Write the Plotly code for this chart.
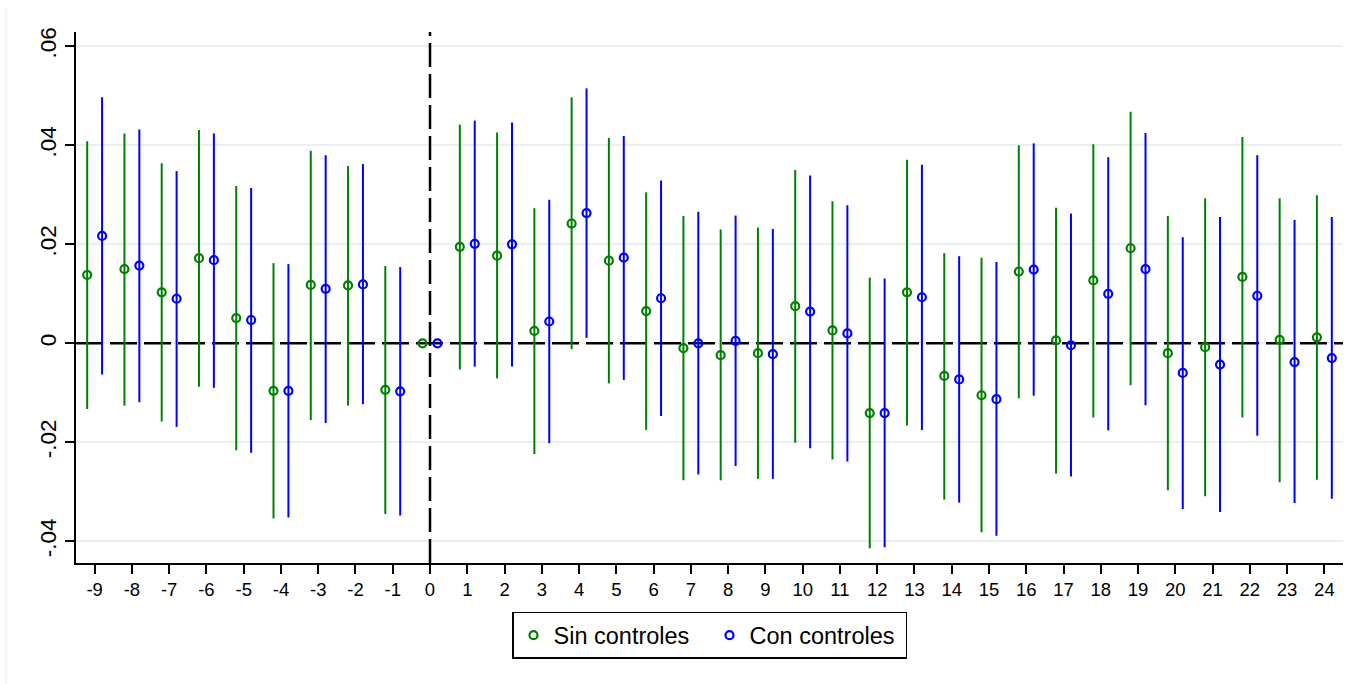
import plotly.graph_objects as go

# Event-time (lags)
lags = list(range(-9, 25))

# Sin controles: point estimates and 95% CI bounds
sin_coef = [0.0138, 0.0150, 0.0103, 0.0172, 0.0051, -0.0096, 0.0118, 0.0117, -0.0094, 0.0,
            0.0195, 0.0177, 0.0025, 0.0242, 0.0167, 0.0065, -0.0010, -0.0024, -0.0020, 0.0075,
            0.0026, -0.0141, 0.0103, -0.0066, -0.0105, 0.0145, 0.0006, 0.0127, 0.0192, -0.0020,
            -0.0008, 0.0134, 0.0007, 0.0012]
sin_hi = [0.0408, 0.0424, 0.0364, 0.0431, 0.0318, 0.0162, 0.0389, 0.0358, 0.0156, 0.0,
          0.0442, 0.0426, 0.0273, 0.0497, 0.0415, 0.0305, 0.0257, 0.0230, 0.0234, 0.0350,
          0.0287, 0.0133, 0.0371, 0.0182, 0.0173, 0.0400, 0.0274, 0.0402, 0.0468, 0.0257,
          0.0293, 0.0417, 0.0293, 0.0299]
sin_lo = [-0.0133, -0.0126, -0.0158, -0.0088, -0.0216, -0.0354, -0.0155, -0.0126, -0.0345, 0.0,
          -0.0053, -0.0071, -0.0224, -0.0012, -0.0081, -0.0175, -0.0277, -0.0277, -0.0274, -0.0201,
          -0.0235, -0.0414, -0.0166, -0.0316, -0.0382, -0.0111, -0.0263, -0.0150, -0.0085, -0.0297,
          -0.0309, -0.0150, -0.0281, -0.0276]

# Con controles: point estimates and 95% CI bounds
con_coef = [0.0217, 0.0157, 0.0090, 0.0168, 0.0047, -0.0096, 0.0110, 0.0119, -0.0097, 0.0,
            0.0201, 0.0200, 0.0044, 0.0263, 0.0173, 0.0091, 0.0000, 0.0005, -0.0022, 0.0064,
            0.0020, -0.0141, 0.0093, -0.0073, -0.0113, 0.0149, -0.0004, 0.0100, 0.0150, -0.0060,
            -0.0043, 0.0096, -0.0038, -0.0030]
con_hi = [0.0497, 0.0432, 0.0348, 0.0424, 0.0314, 0.0160, 0.0380, 0.0362, 0.0154, 0.0,
          0.0450, 0.0446, 0.0290, 0.0515, 0.0419, 0.0329, 0.0266, 0.0258, 0.0231, 0.0339,
          0.0279, 0.0131, 0.0361, 0.0176, 0.0164, 0.0404, 0.0262, 0.0376, 0.0425, 0.0214,
          0.0255, 0.0380, 0.0249, 0.0255]
con_lo = [-0.0063, -0.0119, -0.0169, -0.0090, -0.0221, -0.0352, -0.0161, -0.0123, -0.0348, 0.0,
          -0.0047, -0.0047, -0.0202, 0.0011, -0.0074, -0.0147, -0.0265, -0.0248, -0.0274, -0.0212,
          -0.0239, -0.0412, -0.0175, -0.0322, -0.0389, -0.0106, -0.0269, -0.0176, -0.0125, -0.0335,
          -0.0341, -0.0187, -0.0323, -0.0314]

y_tickvals = [-0.04, -0.02, 0, 0.02, 0.04, 0.06]
y_ticktext = ["-.04", "-.02", "0", ".02", ".04", ".06"]

X_RANGE = [-9.5, 24.5]
Y_RANGE = [-0.0444, 0.0629]

GREEN = "#008000"
BLUE = "#0000ff"
FONT = "Liberation Sans, Arial, Helvetica, sans-serif"
OFFSET = 0.2

fig = go.Figure()

for name, coef, lo, hi, color, sign in [
    ("Sin controles", sin_coef, sin_lo, sin_hi, GREEN, -1),
    ("Con controles", con_coef, con_lo, con_hi, BLUE, 1),
]:
    fig.add_trace(go.Scatter(
        x=[l + sign * OFFSET for l in lags],
        y=coef,
        mode="markers",
        name=name,
        marker=dict(symbol="circle-open", size=8, color=color, line=dict(width=2.2, color=color)),
        error_y=dict(
            type="data", symmetric=False,
            array=[h - c for h, c in zip(hi, coef)],
            arrayminus=[c - l for c, l in zip(coef, lo)],
            color=color, thickness=2, width=0,
        ),
    ))

shapes = [
    # horizontal reference line at 0
    dict(type="line", xref="x", yref="y", x0=X_RANGE[0], x1=X_RANGE[1], y0=0, y1=0,
         line=dict(color="black", width=2.5, dash="27px,7px"), layer="between"),
    # vertical reference line at 0
    dict(type="line", xref="x", yref="y", x0=0, x1=0, y0=Y_RANGE[0], y1=Y_RANGE[1],
         line=dict(color="black", width=2.5, dash="24px,7px"), layer="between"),
    # faint outer frame edge
    dict(type="line", xref="paper", yref="paper", x0=-0.055, x1=-0.055, y0=1.047, y1=-0.23,
         line=dict(color="#eef3f4", width=1.5), layer="below"),
]

fig.update_layout(
    width=1366, height=684,
    margin=dict(l=76, r=23, t=32, b=121),
    paper_bgcolor="white", plot_bgcolor="white",
    font=dict(family=FONT, color="black"),
    shapes=shapes,
    showlegend=True,
    legend=dict(
        orientation="h", x=0.5, xanchor="center", y=-0.092, yanchor="top",
        bordercolor="black", borderwidth=1.5,
        font=dict(size=23.5, family=FONT, color="black"),
        itemwidth=30, entrywidth=151,
    ),
    xaxis=dict(
        range=X_RANGE, tickmode="array", tickvals=lags,
        ticktext=[str(l) for l in lags],
        showgrid=False, zeroline=False,
        showline=True, linecolor="black", linewidth=1.5,
        ticks="outside", ticklen=9, tickwidth=1.5, tickcolor="black",
        tickfont=dict(size=18.5, family=FONT, color="black"),
    ),
    yaxis=dict(
        range=Y_RANGE, tickmode="array", tickvals=y_tickvals, ticktext=y_ticktext,
        tickangle=-90,
        showgrid=True, gridcolor="#eaf0f2", gridwidth=2,
        zeroline=False,
        showline=True, linecolor="black", linewidth=1.5,
        ticks="outside", ticklen=9, tickwidth=1.5, tickcolor="black",
        tickfont=dict(size=22.5, family=FONT, color="black"),
    ),
)

fig.write_html("out.html")
